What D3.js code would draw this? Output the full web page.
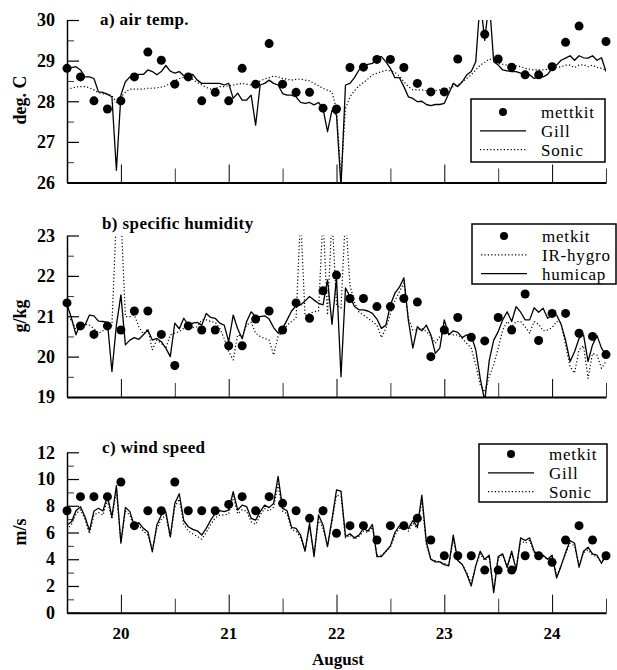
<!DOCTYPE html>
<html>
<head>
<meta charset="utf-8">
<script src="https://cdn.jsdelivr.net/npm/d3@7"></script>
<style>
body { margin: 0; background: #fff; }
svg { display: block; font-family: "Liberation Serif", "Times New Roman", serif; }
</style>
</head>
<body>
<svg id="chart" width="617" height="670"></svg>
<script>
'use strict';

// hourly series: index = hours after 19 Aug 12:00
var gillTemp = [
    28.85, 28.83, 28.85, 28.77, 28.60, 28.60, 28.56, 28.23, 28.22, 28.17,
    28.11, 26.30, 28.15, 28.48, 28.60, 28.60, 28.66, 28.66, 28.77, 28.73,
    28.65, 28.73, 28.88, 28.74, 28.69, 28.73, 28.63, 28.65, 28.66, 28.52,
    28.44, 28.44, 28.44, 28.44, 28.44, 28.40, 28.44, 28.07, 28.20, 28.03,
    28.03, 28.15, 27.41, 28.40, 28.44, 28.52, 28.44, 28.40, 28.19, 28.15,
    28.15, 28.11, 27.97, 27.95, 27.97, 27.91, 27.97, 27.82, 27.25, 27.78,
    27.66, 25.90, 28.40, 28.44, 28.58, 28.77, 28.83, 28.91, 28.93, 29.06,
    29.10, 28.97, 28.81, 28.58, 28.58, 28.36, 28.11, 28.07, 27.99, 28.00,
    27.92, 27.89, 27.92, 27.92, 27.95, 28.19, 28.44, 28.36, 28.48, 28.65,
    28.73, 28.97, 30.50, 29.50, 30.50, 28.97, 28.89, 28.77, 28.75, 28.73,
    28.73, 28.69, 28.65, 28.65, 28.56, 28.60, 28.60, 28.66, 28.81, 28.89,
    29.01, 29.06, 29.12, 29.01, 29.12, 29.07, 29.06, 29.12, 29.01, 29.07, 28.73
];
var sonicTemp = [
    28.30, 28.32, 28.35, 28.36, 28.36, 28.33, 28.28, 28.21, 28.18, 28.18,
    28.14, 27.97, 28.11, 28.22, 28.30, 28.30, 28.30, 28.30, 28.32, 28.32,
    28.33, 28.35, 28.38, 28.44, 28.50, 28.56, 28.59, 28.59, 28.54, 28.46,
    28.40, 28.34, 28.30, 28.31, 28.36, 28.36, 28.38, 28.40, 28.42, 28.44,
    28.42, 28.40, 28.44, 28.50, 28.55, 28.58, 28.62, 28.60, 28.56, 28.54,
    28.52, 28.54, 28.55, 28.52, 28.50, 28.44, 28.38, 28.32, 28.27, 28.23,
    27.80, 26.10, 27.82, 28.11, 28.26, 28.38, 28.46, 28.55, 28.65, 28.69,
    28.73, 28.76, 28.75, 28.71, 28.62, 28.48, 28.36, 28.28, 28.28, 28.28,
    28.26, 28.25, 28.26, 28.28, 28.30, 28.32, 28.36, 28.40, 28.48, 28.56,
    28.65, 28.77, 28.89, 28.96, 29.04, 29.01, 28.93, 28.91, 28.89, 28.89,
    28.87, 28.85, 28.81, 28.79, 28.77, 28.77, 28.77, 28.79, 28.81, 28.83,
    28.85, 28.89, 28.89, 28.83, 28.89, 28.90, 28.85, 28.89, 28.83, 28.81, 28.77
];
var humicap = [
    21.30, 20.95, 20.54, 20.83, 20.78, 21.03, 21.01, 20.88, 20.87, 20.85,
    19.63, 20.78, 21.53, 20.29, 20.41, 20.47, 20.43, 20.54, 20.66, 20.41,
    20.45, 20.37, 20.21, 20.00, 20.83, 20.69, 20.95, 20.78, 20.83, 20.85,
    20.78, 21.07, 20.97, 20.95, 20.83, 20.78, 20.37, 21.03, 20.69, 20.44,
    20.87, 21.11, 20.99, 20.99, 21.01, 20.93, 20.72, 20.58, 20.70, 20.91,
    21.13, 21.26, 21.28, 21.38, 21.49, 21.40, 21.32, 21.28, 21.90, 20.80,
    21.95, 19.50, 21.70, 21.49, 21.24, 21.16, 21.16, 21.13, 21.07, 20.93,
    20.70, 20.78, 21.28, 21.57, 21.72, 21.95, 20.90, 20.21, 20.74, 20.64,
    20.78, 20.54, 20.08, 20.21, 20.91, 20.54, 20.64, 20.60, 20.47, 20.54,
    20.52, 20.17, 19.46, 18.90, 19.90, 20.41, 20.62, 20.91, 21.11, 20.87,
    21.24, 21.10, 20.91, 20.91, 21.21, 21.10, 21.20, 20.95, 21.03, 21.03,
    20.80, 20.41, 19.88, 20.12, 20.45, 20.54, 19.88, 20.29, 20.52, 20.21, 20.04
];
var irHygro = [
    20.95, 20.91, 20.66, 20.72, 20.80, 20.78, 20.69, 20.58, 20.64, 20.69,
    20.78, 23.50, 23.50, 20.99, 20.99, 21.03, 20.74, 20.56, 20.69, 20.17,
    20.41, 20.33, 20.21, 20.54, 20.58, 20.62, 20.70, 20.70, 20.72, 20.74,
    20.91, 20.91, 20.87, 20.85, 20.70, 20.45, 20.12, 19.92, 20.54, 20.50,
    20.78, 20.85, 20.58, 20.50, 20.45, 20.41, 20.04, 20.50, 20.62, 20.78,
    20.87, 20.95, 23.50, 21.01, 21.07, 21.11, 21.13, 23.50, 21.03, 23.50,
    21.28, 21.20, 23.50, 21.77, 21.35, 21.10, 21.03, 20.95, 20.87, 20.78,
    20.47, 20.70, 21.07, 21.38, 21.61, 21.82, 20.95, 20.66, 20.66, 20.70,
    20.62, 20.51, 20.33, 20.50, 20.62, 20.56, 20.54, 20.54, 20.45, 20.33,
    20.21, 19.80, 19.30, 19.12, 19.51, 19.80, 20.21, 20.66, 20.87, 20.74,
    20.87, 20.87, 20.74, 20.58, 20.87, 20.80, 20.64, 20.66, 20.72, 20.87,
    20.83, 20.29, 19.75, 19.59, 20.17, 20.27, 19.46, 20.08, 20.04, 19.71, 19.88
];
var gillWind = [
    6.56, 6.81, 7.63, 7.93, 7.18, 6.13, 7.61, 7.81, 7.61, 8.73,
    7.18, 9.50, 5.20, 7.88, 7.56, 6.48, 6.73, 6.31, 6.06, 4.56,
    6.56, 7.31, 7.56, 5.69, 8.18, 8.90, 6.88, 6.43, 6.23, 6.13,
    5.81, 6.31, 6.93, 7.43, 7.63, 7.56, 7.68, 9.05, 7.68, 8.05,
    7.93, 7.06, 6.93, 7.56, 8.05, 7.86, 8.18, 10.20, 7.81, 7.63,
    6.38, 6.31, 5.81, 4.60, 6.68, 4.20, 7.31, 6.56, 4.94, 7.00,
    9.18, 9.10, 5.70, 5.90, 5.60, 5.80, 6.30, 6.10, 6.60, 4.20,
    4.20, 4.60, 5.00, 6.00, 6.50, 6.60, 6.30, 6.90, 6.40, 8.80,
    5.30, 4.00, 3.80, 3.80, 3.60, 3.50, 5.80, 3.90, 3.60, 2.90,
    2.00, 3.50, 4.60, 4.00, 4.30, 1.50, 4.20, 4.40, 3.40, 4.60,
    3.20, 5.60, 5.40, 5.60, 4.60, 4.30, 4.30, 4.00, 4.30, 2.60,
    3.50, 4.50, 5.40, 5.20, 3.40, 4.60, 4.90, 4.40, 4.30, 3.70, 4.40
];
var sonicWind = [
    6.20, 6.60, 7.40, 7.70, 7.00, 5.90, 7.30, 7.50, 7.30, 8.40,
    7.00, 9.20, 5.30, 7.60, 7.30, 6.30, 6.50, 6.10, 5.80, 4.70,
    6.30, 7.00, 7.30, 5.60, 7.90, 8.50, 6.60, 6.10, 5.90, 5.70,
    5.50, 6.00, 6.60, 7.10, 7.30, 7.30, 7.40, 8.70, 7.40, 7.70,
    7.60, 6.80, 6.60, 7.30, 7.80, 7.60, 7.90, 9.60, 7.60, 7.40,
    6.20, 6.10, 5.60, 4.70, 6.40, 4.40, 7.00, 6.30, 5.00, 6.80,
    8.80, 8.70, 5.60, 5.80, 5.50, 5.70, 6.10, 6.00, 6.40, 4.30,
    4.30, 4.60, 4.90, 5.80, 6.30, 6.40, 6.10, 6.70, 6.30, 8.40,
    5.10, 4.00, 3.90, 3.80, 3.70, 3.60, 5.50, 3.90, 3.60, 3.00,
    2.20, 3.50, 4.40, 3.90, 4.20, 1.70, 4.10, 4.30, 3.40, 4.40,
    3.30, 5.40, 5.20, 5.40, 4.50, 4.20, 4.20, 4.00, 4.20, 2.80,
    3.50, 4.40, 5.20, 5.00, 3.50, 4.50, 4.70, 4.30, 4.20, 3.70, 4.30
];

// metkit samples (day of August)
var metDaysA = [
    19.5, 19.625, 19.75, 19.875, 20.0, 20.125, 20.25, 20.375, 20.5, 20.625,
    20.75, 20.875, 21.0, 21.125, 21.25, 21.375, 21.5, 21.625, 21.75, 21.875,
    22.0, 22.125, 22.25, 22.375, 22.5, 22.625, 22.75, 22.875, 23.0, 23.125,
    23.375, 23.5, 23.625, 23.75, 23.875, 24.0, 24.125, 24.25, 24.5
];
var metTemp = [
    28.81, 28.60, 28.01, 27.81, 28.01, 28.60, 29.21, 29.01, 28.42, 28.60,
    28.01, 28.22, 28.01, 28.81, 28.42, 29.42, 28.42, 28.22, 28.22, 27.83,
    27.81, 28.83, 28.84, 29.03, 29.03, 28.83, 28.44, 28.23, 28.23, 29.04,
    29.65, 29.04, 28.84, 28.65, 28.65, 28.85, 29.45, 29.85, 29.47
];
var metDays = [
    19.5, 19.625, 19.75, 19.875, 20.0, 20.125, 20.25, 20.375, 20.5, 20.625,
    20.75, 20.875, 21.0, 21.125, 21.25, 21.375, 21.5, 21.625, 21.75, 21.875,
    22.0, 22.125, 22.25, 22.375, 22.5, 22.625, 22.75, 22.875, 23.0, 23.125,
    23.25, 23.375, 23.5, 23.625, 23.75, 23.875, 24.0, 24.125, 24.25, 24.375, 24.5
];
var metHum = [
    21.33, 20.76, 20.55, 20.76, 20.66, 21.13, 21.13, 20.55, 19.78, 20.76,
    20.66, 20.66, 20.27, 20.27, 20.93, 21.13, 20.66, 21.33, 20.95, 21.63,
    22.02, 21.44, 21.44, 21.24, 21.24, 21.44, 21.35, 20.00, 20.66, 20.97,
    20.48, 20.39, 20.97, 20.66, 21.55, 20.40, 21.07, 21.07, 20.58, 20.50, 20.05
];
var metWind = [
    7.63, 8.68, 8.68, 8.68, 9.78, 6.51, 7.63, 7.63, 9.78, 7.63,
    7.63, 7.63, 8.10, 8.68, 7.63, 8.68, 8.18, 7.63, 7.06, 7.63,
    5.94, 6.51, 6.51, 5.44, 6.51, 6.51, 7.06, 5.44, 4.26, 4.26,
    4.26, 3.19, 3.19, 3.19, 4.26, 4.26, 3.77, 5.44, 6.51, 5.44, 4.26
];

var dayTicks = [20, 21, 22, 23, 24];
var halfDayTicks = [20.5, 21.5, 22.5, 23.5, 24.5];

var svg = d3.select('#chart');
var x = d3.scaleLinear().domain([19.5, 24.5]).range([67, 606]);

var panels = [
    {
        id: 'a', title: 'a) air temp.', yLabel: 'deg. C',
        domain: [26, 30], top: 20, bottom: 182.5,
        major: [26, 27, 28, 29, 30], minor: [26.5, 27.5, 28.5, 29.5],
        titlePos: [100, 25], labelY: 100,
        metX: metDaysA, metY: metTemp,
        series: [{v: gillTemp, dotted: false}, {v: sonicTemp, dotted: true}],
        legend: {x: 471, y: 99, w: 134, h: 63, first: 112,
            items: [['dot', 'mettkit'], ['solid', 'Gill'], ['dotted', 'Sonic']]}
    },
    {
        id: 'b', title: 'b) specific humidity', yLabel: 'g/kg',
        domain: [19, 23], top: 235.5, bottom: 397,
        major: [19, 20, 21, 22, 23], minor: [19.5, 20.5, 21.5, 22.5],
        titlePos: [102, 229], labelY: 316,
        metX: metDays, metY: metHum,
        series: [{v: irHygro, dotted: true}, {v: humicap, dotted: false}],
        legend: {x: 472, y: 224, w: 144, h: 60, first: 236,
            items: [['dot', 'metkit'], ['dotted', 'IR-hygro'], ['solid', 'humicap']]}
    },
    {
        id: 'c', title: 'c) wind speed', yLabel: 'm/s',
        domain: [0, 12], top: 452.3, bottom: 612.7,
        major: [0, 2, 4, 6, 8, 10, 12], minor: [1, 3, 5, 7, 9, 11],
        titlePos: [102, 453], labelY: 532,
        metX: metDays, metY: metWind,
        series: [{v: sonicWind, dotted: true}, {v: gillWind, dotted: false}],
        legend: {x: 479, y: 444, w: 128, h: 58, first: 454,
            items: [['dot', 'metkit'], ['solid', 'Gill'], ['dotted', 'Sonic']]}
    }
];

function styleLine(sel, dotted) {
    sel.attr('fill', 'none')
        .attr('stroke', '#000')
        .attr('stroke-linejoin', 'round')
        .attr('stroke-width', dotted ? 1.2 : 1.3)
        .attr('stroke-dasharray', dotted ? '1.2,2.2' : null);
}

panels.forEach(function(p) {
    var y = d3.scaleLinear().domain(p.domain).range([p.bottom, p.top]);
    var g = svg.append('g').attr('class', 'panel-' + p.id);

    g.append('clipPath').attr('id', 'clip-' + p.id)
        .append('rect')
        .attr('x', 67).attr('y', p.top)
        .attr('width', 606 - 67).attr('height', p.bottom - p.top);

    // x ticks (inward, from the bottom axis)
    var xMajor = d3.axisBottom(x).tickValues(dayTicks).tickSizeInner(-18).tickSizeOuter(0).tickFormat('');
    var xMinor = d3.axisBottom(x).tickValues(halfDayTicks).tickSizeInner(-14).tickSizeOuter(0).tickFormat('');
    g.append('g').attr('transform', 'translate(0,' + p.bottom + ')').call(xMinor)
        .call(function(a) { a.select('.domain').remove(); a.selectAll('line').attr('stroke-width', 0.8); });
    g.append('g').attr('transform', 'translate(0,' + p.bottom + ')').call(xMajor)
        .call(function(a) { a.select('.domain').attr('stroke-width', 2); a.selectAll('line').attr('stroke-width', 1); });

    // y ticks
    var yMajor = d3.axisLeft(y).tickValues(p.major).tickSizeInner(-12).tickSizeOuter(0)
        .tickPadding(12).tickFormat(d3.format('d'));
    var yMinor = d3.axisLeft(y).tickValues(p.minor).tickSizeInner(-7).tickSizeOuter(0).tickFormat('');
    g.append('g').attr('transform', 'translate(67,0)').call(yMinor)
        .call(function(a) { a.select('.domain').remove(); a.selectAll('line').attr('stroke-width', 0.8); });
    g.append('g').attr('transform', 'translate(67,0)').call(yMajor)
        .call(function(a) {
            a.select('.domain').attr('stroke-width', 1.5);
            a.selectAll('line').attr('stroke-width', 1.2);
            a.selectAll('text')
                .attr('font-family', '"Liberation Serif", "Times New Roman", serif')
                .attr('font-size', 18).attr('font-weight', 'bold').attr('fill', '#000');
        });

    // series lines
    var line = d3.line()
        .x(function(d, i) { return x(19.5 + i / 24); })
        .y(function(d) { return y(d); });
    var lines = g.append('g').attr('clip-path', 'url(#clip-' + p.id + ')');
    p.series.forEach(function(s) {
        lines.append('path').datum(s.v).attr('d', line).call(styleLine, s.dotted);
    });

    // metkit dots
    g.append('g').selectAll('circle')
        .data(p.metY)
        .enter()
        .append('circle')
        .attr('cx', function(d, i) { return x(p.metX[i]); })
        .attr('cy', function(d) { return y(d); })
        .attr('r', 4.5)
        .attr('fill', '#000');

    // titles
    g.append('text')
        .attr('x', p.titlePos[0]).attr('y', p.titlePos[1])
        .attr('font-size', 17).attr('font-weight', 'bold').attr('letter-spacing', 0.4)
        .text(p.title);
    g.append('text')
        .attr('transform', 'translate(26,' + p.labelY + ') rotate(-90)')
        .attr('text-anchor', 'middle')
        .attr('font-size', 18).attr('font-weight', 'bold')
        .text(p.yLabel);

    // legend
    var L = p.legend;
    var lg = g.append('g');
    lg.append('rect')
        .attr('x', L.x).attr('y', L.y).attr('width', L.w).attr('height', L.h)
        .attr('fill', '#fff').attr('stroke', '#000').attr('stroke-width', 1.5);
    L.items.forEach(function(item, i) {
        var ry = L.first + i * 18.8;
        if (item[0] === 'dot') {
            lg.append('circle').attr('cx', L.x + 32).attr('cy', ry).attr('r', 4).attr('fill', '#000');
        } else {
            lg.append('line')
                .attr('x1', L.x + 9).attr('x2', L.x + 55)
                .attr('y1', ry).attr('y2', ry)
                .call(styleLine, item[0] === 'dotted');
        }
        lg.append('text')
            .attr('x', L.x + 70).attr('y', ry + 6)
            .attr('font-size', 17).attr('letter-spacing', 0.8)
            .text(item[1]);
    });
});

// x tick labels under the last panel
svg.append('g').selectAll('text')
    .data(dayTicks)
    .enter()
    .append('text')
    .attr('x', function(d) { return x(d); })
    .attr('y', 639)
    .attr('text-anchor', 'middle')
    .attr('font-size', 17).attr('font-weight', 'bold')
    .text(function(d) { return d; });

svg.append('text')
    .attr('x', 338).attr('y', 665)
    .attr('text-anchor', 'middle')
    .attr('font-size', 17).attr('font-weight', 'bold')
    .text('August');
</script>
</body>
</html>
